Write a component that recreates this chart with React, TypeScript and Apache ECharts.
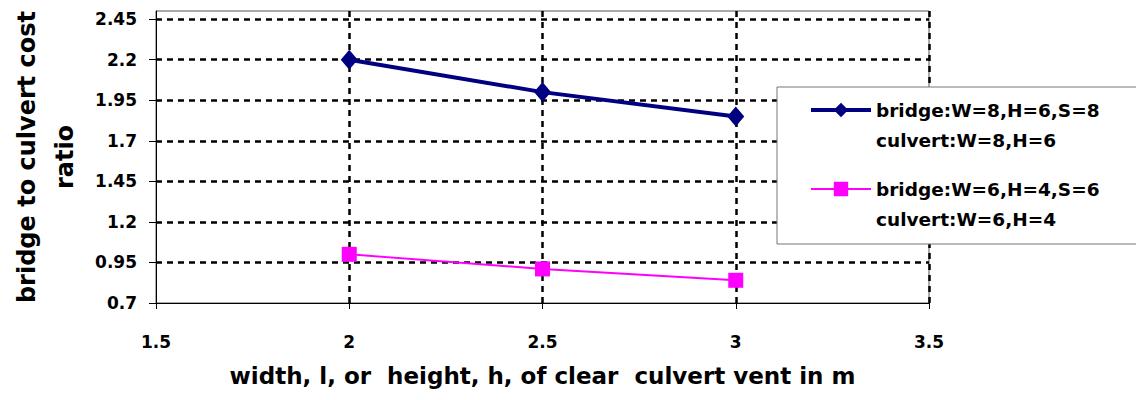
import React, { useEffect, useRef } from 'react';
import * as echarts from 'echarts';

const FONT = 'DejaVu Sans';

const xValues = [2, 2.5, 3];
const series1Name = 'bridge:W=8,H=6,S=8\nculvert:W=8,H=6';
const series1Values = [2.2, 2.0, 1.85];
const series2Name = 'bridge:W=6,H=4,S=6\nculvert:W=6,H=4';
const series2Values = [1.0, 0.91, 0.84];

const xMin = 1.5;
const xMax = 3.5;
const xStep = 0.5;
const yMin = 0.7;
const yMax = 2.5;
const yStep = 0.25;

const xTitle = 'width, l, or  height, h, of clear  culvert vent in m';
const yTitle = 'bridge to culvert cost\nratio';

export default function App() {
  const ref = useRef<HTMLDivElement>(null);

  useEffect(() => {
    if (!ref.current) return;
    const chart = echarts.init(ref.current, undefined, { renderer: 'svg' });
    const gridLine = { color: '#000', width: 2.5, type: [6, 5] as any };
    const option: any = {
      animation: false,
      backgroundColor: '#fff',
      textStyle: { fontFamily: FONT, fontWeight: 'bold' },
      grid: {
        left: 151,
        right: 207,
        top: 11,
        bottom: 97,
        show: true,
        borderColor: '#555',
        borderWidth: 1,
        backgroundColor: 'transparent',
      },
      xAxis: {
        type: 'value',
        min: xMin,
        max: xMax,
        interval: xStep,
        name: xTitle,
        nameLocation: 'middle',
        nameGap: 61,
        nameTextStyle: { fontFamily: FONT, fontWeight: 'bold', fontSize: 23, color: '#000' },
        axisLine: { show: true, onZero: false, lineStyle: { color: '#000', width: 1 } },
        axisTick: { show: true, length: 6, lineStyle: { color: '#000', width: 1 } },
        axisLabel: { margin: 30, fontSize: 17, fontWeight: 'bold', color: '#000', fontFamily: FONT },
        splitLine: { show: true, showMinLine: false, lineStyle: gridLine },
      },
      yAxis: {
        type: 'value',
        min: yMin,
        max: yMax,
        interval: yStep,
        name: yTitle,
        nameLocation: 'middle',
        nameRotate: 90,
        nameGap: 72,
        nameTextStyle: { fontFamily: FONT, fontWeight: 'bold', fontSize: 24, lineHeight: 38, color: '#000' },
        axisLine: { show: true, onZero: false, lineStyle: { color: '#000', width: 1 } },
        axisTick: { show: true, length: 7, lineStyle: { color: '#000', width: 1 } },
        axisLabel: {
          margin: 19,
          fontSize: 17,
          fontWeight: 'bold',
          color: '#000',
          fontFamily: FONT,
          showMaxLabel: false,
        },
        splitLine: { show: true, showMinLine: false, showMaxLine: false, lineStyle: gridLine },
      },
      legend: {
        orient: 'vertical',
        left: 777,
        top: 87,
        padding: [-22, 60, 10, 32],
        itemWidth: 60,
        itemHeight: 18,
        itemGap: -11,
        selectedMode: false,
        backgroundColor: '#fff',
        borderColor: '#777',
        borderWidth: 1,
        formatter: (name: string) => ' \n' + name,
        textStyle: {
          fontFamily: FONT,
          fontWeight: 'bold',
          fontSize: 18.5,
          lineHeight: 30,
          color: '#000',
        },
        data: [
          { name: series1Name, lineStyle: { width: 4 } },
          { name: series2Name, lineStyle: { width: 2 } },
        ],
      },
      series: [
        {
          name: series1Name,
          type: 'line',
          data: xValues.map((x, i) => [x, series1Values[i]]),
          symbol: 'diamond',
          symbolSize: [17, 20],
          lineStyle: { color: '#000080', width: 4 },
          itemStyle: { color: '#000080' },
          z: 3,
        },
        {
          name: series2Name,
          type: 'line',
          data: xValues.map((x, i) => [x, series2Values[i]]),
          symbol: 'rect',
          symbolSize: 15,
          lineStyle: { color: '#FF00FF', width: 2 },
          itemStyle: { color: '#FF00FF' },
          z: 3,
        },
      ],
    };
    chart.setOption(option);
    return () => chart.dispose();
  }, []);

  return (
    <div
      ref={ref}
      style={{ position: 'fixed', left: 0, top: 0, width: 1136, height: 400, background: '#fff' }}
    />
  );
}
